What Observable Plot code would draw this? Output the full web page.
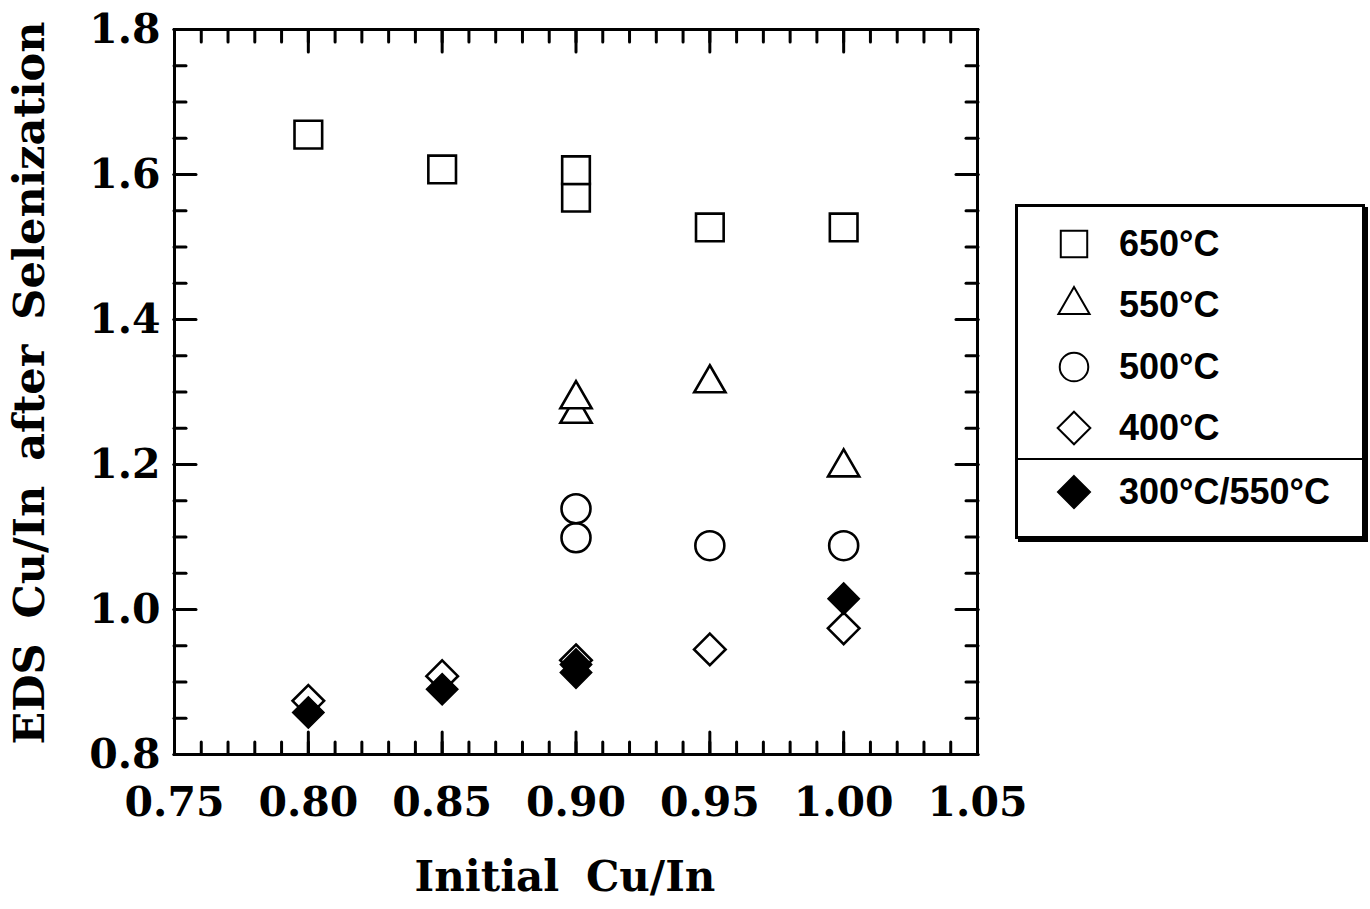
<!DOCTYPE html>
<html>
<head>
<meta charset="utf-8">
<script src="https://cdn.jsdelivr.net/npm/d3@7"></script>
<script src="https://cdn.jsdelivr.net/npm/@observablehq/plot@0.6"></script>
<style>
  body { margin: 0; background: #fff; }
  #chart { position: relative; width: 1370px; height: 909px; overflow: hidden; }
  #legend {
    position: absolute; left: 1015px; top: 204px; width: 344px; height: 329px;
    border: 3px solid #000; box-shadow: 3px 3px 0 #000; background: #fff;
    font-family: "Liberation Sans", Arial, sans-serif; font-weight: bold; font-size: 36px; color: #000;
  }
  #legend .row { position: absolute; left: 0; height: 50px; display: flex; align-items: center; }
  #legend .row svg { position: absolute; left: 35px; top: 4px; }
  #legend .row span { position: absolute; left: 101px; white-space: nowrap; line-height: 50px; top: 0; }
  #legend .divider { position: absolute; left: 0; right: 0; top: 251px; height: 2px; background: #000; }
</style>
</head>
<body>
<div id="chart"><div id="legend"></div></div>
<script>
// Series names (annealing temperatures)
const seriesNames = ["650°C", "550°C", "500°C", "400°C", "300°C/550°C"];

// Initial Cu/In vs. EDS Cu/In after selenization, one pair of arrays per series
const x650 = [0.80, 0.85, 0.90, 0.90, 0.95, 1.00];
const y650 = [1.655, 1.607, 1.568, 1.606, 1.527, 1.527];

const x550 = [0.90, 0.90, 0.95, 1.00];
const y550 = [1.270, 1.290, 1.312, 1.196];

const x500 = [0.90, 0.90, 0.95, 1.00];
const y500 = [1.099, 1.139, 1.088, 1.088];

const x400 = [0.80, 0.85, 0.90, 0.95, 1.00];
const y400 = [0.874, 0.908, 0.930, 0.945, 0.974];

const x300550 = [0.80, 0.85, 0.90, 0.90, 1.00];
const y300550 = [0.858, 0.890, 0.924, 0.913, 1.015];

// Axis tick labels
const xTicks = [0.75, 0.80, 0.85, 0.90, 0.95, 1.00, 1.05];
const yTicks = [0.8, 1.0, 1.2, 1.4, 1.6, 1.8];
const xMinorTicks = d3.range(0, 31).map(i => +(0.75 + i * 0.01).toFixed(2));
const yMinorTicks = d3.range(0, 21).map(i => +(0.8 + i * 0.05).toFixed(2));

const xTitle = "Initial Cu/In";
const yTitle = "EDS Cu/In after Selenization";

const rows = (xs, ys) => xs.map((x, i) => ({x, y: ys[i]}));

const serif = "'DejaVu Serif', 'Liberation Serif', serif";
const tickStyle = {strokeWidth: 3, strokeLinecap: "round", fill: "none", label: null};

const marks = [];
// inward-pointing ticks on all four sides
for (const anchor of ["bottom", "top"]) {
  marks.push(Plot.axisX(xMinorTicks, {anchor, tickSize: -12, ...tickStyle}));
  marks.push(Plot.axisX(xTicks, {anchor, tickSize: -22, ...tickStyle}));
}
for (const anchor of ["left", "right"]) {
  marks.push(Plot.axisY(yMinorTicks, {anchor, tickSize: -12, ...tickStyle}));
  marks.push(Plot.axisY(yTicks, {anchor, tickSize: -22, ...tickStyle}));
}
// tick labels
marks.push(Plot.axisX(xTicks, {anchor: "bottom", tickSize: 0, tickPadding: 32, fontSize: 41,
  fontFamily: serif, fontWeight: "bold", tickFormat: d3.format(".2f"), label: null}));
marks.push(Plot.axisY(yTicks, {anchor: "left", tickSize: 0, tickPadding: 14, fontSize: 41,
  fontFamily: serif, fontWeight: "bold", tickFormat: d3.format(".1f"), label: null}));

marks.push(Plot.frame({stroke: "black", strokeWidth: 3}));

const openStyle = {x: "x", y: "y", stroke: "black", fill: "white", strokeWidth: 2.6};
marks.push(Plot.dot(rows(x650, y650), {...openStyle, symbol: "square", r: 15.6}));
marks.push(Plot.dot(rows(x550, y550), {...openStyle, symbol: "triangle", r: 11.6}));
marks.push(Plot.dot(rows(x500, y500), {...openStyle, symbol: "circle", r: 14.5}));
marks.push(Plot.dot(rows(x400, y400), {...openStyle, symbol: "diamond2", r: 14.2}));
marks.push(Plot.dot(rows(x300550, y300550), {x: "x", y: "y", symbol: "diamond2", r: 14.2,
  fill: "black", stroke: "black", strokeWidth: 1.5}));

// axis titles
marks.push(Plot.text([xTitle], {text: d => d, frameAnchor: "bottom", dy: 123, dx: -11,
  fontSize: 42, fontFamily: serif, fontWeight: "bold", textAnchor: "middle", lineAnchor: "middle"}));
marks.push(Plot.text([yTitle], {text: d => d, frameAnchor: "left", dx: -144, dy: -9, rotate: -90,
  fontSize: 43, fontFamily: serif, fontWeight: "bold", textAnchor: "middle", lineAnchor: "middle"}));

const chart = Plot.plot({
  width: 1370,
  height: 909,
  marginLeft: 174,
  marginRight: 393,
  marginTop: 29,
  marginBottom: 155,
  x: {domain: [0.75, 1.05], axis: null},
  y: {domain: [0.8, 1.8], axis: null},
  style: {background: "white", color: "black", fontFamily: serif},
  marks
});

d3.select(chart).selectAll("text")
  .filter(function() { return this.textContent === xTitle; })
  .style("word-spacing", "12px");
d3.select(chart).selectAll("text")
  .filter(function() { return this.textContent === yTitle; })
  .style("word-spacing", "10px");

const container = document.getElementById("chart");
container.insertBefore(chart, container.firstChild);

// legend box
const legendSymbols = [
  {type: d3.symbolSquare, size: 700, fill: "white", sw: 2},
  {type: d3.symbolTriangle, size: 420, fill: "white", sw: 2},
  {type: d3.symbolCircle, size: 640, fill: "white", sw: 2},
  {type: d3.symbolDiamond2, size: 680, fill: "white", sw: 2},
  {type: d3.symbolDiamond2, size: 680, fill: "black", sw: 1.5}
];
const rowTops = [12, 73, 135, 196, 260];
const legend = d3.select("#legend");
seriesNames.forEach((name, i) => {
  const row = legend.append("div").attr("class", "row").style("top", rowTops[i] + "px");
  const s = legendSymbols[i];
  row.append("svg").attr("width", 42).attr("height", 42)
    .append("path")
    .attr("transform", "translate(21,21)")
    .attr("d", d3.symbol(s.type, s.size)())
    .attr("fill", s.fill).attr("stroke", "black").attr("stroke-width", s.sw);
  row.append("span").text(name);
});
legend.append("div").attr("class", "divider");
</script>
</body>
</html>
